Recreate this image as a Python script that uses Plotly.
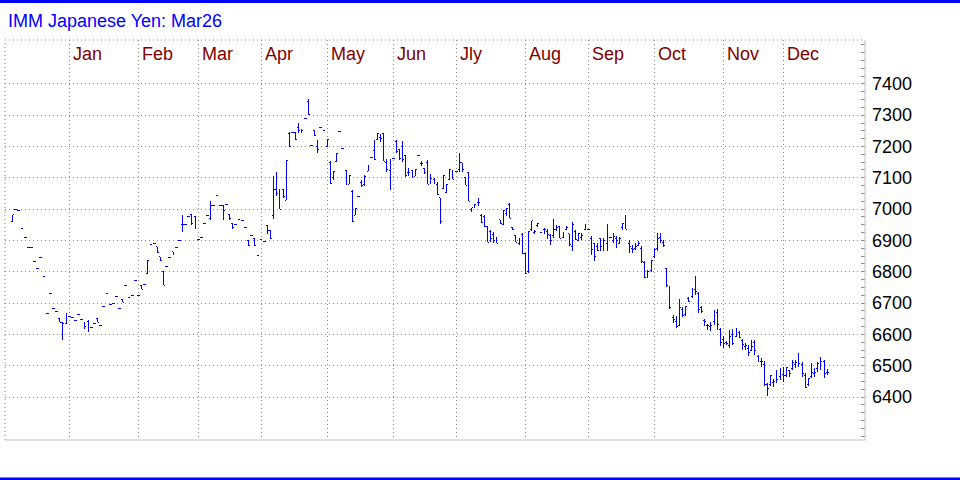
import plotly.graph_objects as go

# ---------------- data ----------------
title_text = "IMM Japanese Yen: Mar26"
month_names = ["Jan", "Feb", "Mar", "Apr", "May", "Jun", "Jly", "Aug", "Sep", "Oct", "Nov", "Dec"]
# trading bars per month: Dec-2024 (partial), Jan..Nov 2025, Dec-2025 (partial)
bars_per_month = [18, 22, 19, 20, 21, 21, 20, 22, 20, 21, 22, 19, 15]
y_ticks = [6400, 6500, 6600, 6700, 6800, 6900, 7000, 7100, 7200, 7300, 7400]

open_ = [
    6961, 7000, 6997, 6939, 6911, 6876, 6879, 6832, 6812, 6847,
    6786, 6668, 6732, 6682, 6674, 6650, 6639, 6634, 6658, 6655,
    6646, 6665, 6649, 6639, 6640, 6622, 6636, 6650, 6630, 6690,
    6732, 6697, 6700, 6722, 6682, 6710, 6757, 6717, 6725, 6773,
    6725, 6757, 6761, 6796, 6886, 6889, 6880, 6848, 6800, 6818,
    6847, 6864, 6876, 6900, 6950, 6950, 6975, 6982, 6975, 6902,
    6911, 6953, 6979, 6970, 7013, 7042, 7011, 7011, 7015, 6984,
    6955, 6950, 6967, 6964, 6943, 6900, 6916, 6906, 6852, 6903,
    6898, 6949, 6933, 6980, 7064, 7064, 7063, 7029, 7240, 7244,
    7244, 7260, 7254, 7290, 7345, 7204, 7250, 7200, 7260, 7252,
    7200, 7150, 7100, 7153, 7248, 7194, 7124, 7079, 7055, 6980,
    7040, 7086, 7080, 7121, 7165, 7187, 7221, 7230, 7241, 7150,
    7123, 7162, 7215, 7190, 7200, 7170, 7118, 7124, 7105, 7171,
    7145, 7130, 7150, 7081, 7095, 7080, 7036, 7066, 7053, 7094,
    7124, 7121, 7125, 7148, 7100, 7117, 7000, 7005, 7020, 6980,
    6975, 6944, 6930, 6920, 6909, 6966, 6950, 6985, 7015, 6942,
    6915, 6890, 6920, 6859, 6800, 6935, 6925, 6948, 6926, 6936,
    6930, 6915, 6915, 6935, 6945, 6910, 6935, 6921, 6880, 6930,
    6900, 6910, 6935, 6936, 6905, 6891, 6880, 6907, 6880, 6890,
    6910, 6900, 6905, 6890, 6940, 6975, 6890, 6875, 6875, 6885,
    6875, 6830, 6785, 6805, 6850, 6875, 6910, 6895, 6810, 6750,
    6655, 6640, 6630, 6680, 6665, 6715, 6720, 6745, 6730, 6685,
    6645, 6630, 6625, 6640, 6670, 6615, 6585, 6575, 6565, 6600,
    6595, 6605, 6580, 6560, 6555, 6550, 6575, 6530, 6515, 6505,
    6440, 6440, 6445, 6460, 6465, 6473, 6470, 6485, 6490, 6505,
    6515, 6505, 6470, 6440, 6465, 6475, 6490, 6505, 6515, 6480,
]
high = [
    6982, 7000, 6997, 6939, 6911, 6876, 6879, 6832, 6812, 6847,
    6786, 6668, 6732, 6682, 6674, 6650, 6639, 6668, 6658, 6655,
    6646, 6665, 6649, 6639, 6646, 6622, 6636, 6653, 6630, 6690,
    6732, 6697, 6700, 6722, 6682, 6710, 6757, 6717, 6725, 6773,
    6725, 6757, 6761, 6837, 6886, 6889, 6880, 6848, 6800, 6818,
    6847, 6864, 6876, 6900, 6982, 6950, 6975, 6985, 6977, 6902,
    6911, 6953, 6979, 7025, 7013, 7042, 7011, 7013, 7015, 6984,
    6955, 6950, 6967, 6964, 6943, 6900, 6916, 6906, 6852, 6903,
    6898, 6949, 6933, 7105, 7118, 7064, 7063, 7154, 7245, 7244,
    7244, 7276, 7254, 7290, 7353, 7204, 7252, 7222, 7260, 7252,
    7222, 7153, 7121, 7178, 7248, 7194, 7124, 7107, 7061, 7002,
    7040, 7093, 7110, 7139, 7165, 7220, 7241, 7240, 7241, 7160,
    7158, 7162, 7222, 7193, 7217, 7171, 7130, 7125, 7127, 7171,
    7153, 7130, 7156, 7111, 7100, 7087, 7036, 7108, 7080, 7128,
    7124, 7121, 7178, 7148, 7103, 7117, 7005, 7016, 7035, 6984,
    6980, 6944, 6934, 6928, 6909, 6966, 6997, 7004, 7019, 6942,
    6918, 6907, 6925, 6859, 6930, 6963, 6933, 6955, 6926, 6939,
    6936, 6920, 6968, 6950, 6945, 6927, 6945, 6921, 6958, 6934,
    6923, 6923, 6950, 6936, 6913, 6891, 6891, 6907, 6907, 6953,
    6910, 6923, 6913, 6911, 6955, 6982, 6900, 6886, 6891, 6897,
    6881, 6833, 6806, 6838, 6875, 6923, 6923, 6902, 6812, 6755,
    6663, 6660, 6713, 6687, 6690, 6721, 6748, 6787, 6737, 6690,
    6649, 6634, 6641, 6679, 6681, 6620, 6596, 6578, 6615, 6617,
    6620, 6610, 6585, 6572, 6567, 6583, 6583, 6535, 6524, 6514,
    6445, 6471, 6457, 6487, 6492, 6497, 6497, 6487, 6517, 6519,
    6540, 6513, 6476, 6460, 6508, 6492, 6513, 6529, 6519, 6489,
]
low = [
    6961, 7000, 6997, 6939, 6911, 6876, 6879, 6832, 6812, 6847,
    6786, 6668, 6732, 6682, 6674, 6639, 6581, 6634, 6658, 6655,
    6646, 6665, 6649, 6617, 6610, 6622, 6636, 6639, 6630, 6690,
    6732, 6697, 6700, 6722, 6682, 6702, 6757, 6717, 6725, 6773,
    6725, 6745, 6761, 6796, 6886, 6889, 6863, 6837, 6757, 6818,
    6847, 6856, 6876, 6900, 6926, 6950, 6975, 6948, 6937, 6902,
    6911, 6953, 6979, 6966, 7013, 7042, 7011, 6966, 7015, 6965,
    6937, 6950, 6967, 6964, 6943, 6883, 6916, 6883, 6852, 6903,
    6898, 6922, 6906, 6970, 7041, 6999, 7037, 7029, 7201, 7244,
    7222, 7242, 7242, 7290, 7301, 7204, 7235, 7180, 7260, 7252,
    7199, 7082, 7093, 7153, 7248, 7194, 7079, 7079, 6962, 6980,
    7040, 7071, 7075, 7121, 7165, 7156, 7221, 7215, 7153, 7120,
    7061, 7162, 7178, 7156, 7151, 7103, 7105, 7100, 7105, 7171,
    7137, 7112, 7079, 7081, 7080, 7046, 6954, 7066, 7053, 7094,
    7096, 7121, 7119, 7119, 7076, 7026, 6990, 7005, 7009, 6957,
    6944, 6894, 6895, 6891, 6891, 6953, 6948, 6979, 6971, 6932,
    6894, 6886, 6859, 6795, 6795, 6930, 6920, 6944, 6926, 6921,
    6905, 6886, 6907, 6931, 6907, 6907, 6932, 6883, 6867, 6900,
    6900, 6902, 6932, 6936, 6854, 6836, 6865, 6865, 6865, 6865,
    6910, 6891, 6876, 6889, 6934, 6936, 6860, 6860, 6870, 6881,
    6828, 6780, 6780, 6799, 6845, 6865, 6891, 6879, 6753, 6682,
    6636, 6622, 6626, 6657, 6660, 6702, 6716, 6727, 6668, 6670,
    6628, 6615, 6610, 6631, 6615, 6562, 6556, 6567, 6556, 6567,
    6591, 6588, 6551, 6549, 6530, 6546, 6535, 6511, 6496, 6434,
    6402, 6434, 6433, 6444, 6454, 6449, 6465, 6465, 6487, 6492,
    6495, 6465, 6428, 6435, 6460, 6465, 6481, 6487, 6460, 6471,
]
close = [
    6982, 7000, 6997, 6939, 6911, 6876, 6879, 6832, 6812, 6847,
    6786, 6668, 6732, 6682, 6674, 6639, 6634, 6668, 6658, 6655,
    6646, 6665, 6649, 6625, 6610, 6622, 6636, 6639, 6630, 6690,
    6732, 6697, 6700, 6722, 6682, 6702, 6757, 6717, 6725, 6773,
    6725, 6745, 6761, 6837, 6886, 6889, 6863, 6837, 6757, 6818,
    6847, 6856, 6876, 6900, 6950, 6950, 6975, 6955, 6937, 6902,
    6911, 6953, 6979, 7013, 7013, 7042, 7011, 6996, 7015, 6970,
    6940, 6950, 6967, 6964, 6943, 6883, 6916, 6883, 6852, 6903,
    6898, 6933, 6906, 7064, 7050, 6999, 7040, 7154, 7201, 7244,
    7222, 7250, 7250, 7290, 7301, 7204, 7235, 7190, 7260, 7252,
    7222, 7082, 7121, 7178, 7248, 7194, 7079, 7107, 6962, 7002,
    7040, 7074, 7105, 7139, 7165, 7160, 7241, 7225, 7153, 7125,
    7158, 7162, 7185, 7162, 7160, 7107, 7118, 7105, 7127, 7171,
    7145, 7118, 7079, 7098, 7090, 7046, 6960, 7108, 7080, 7128,
    7096, 7121, 7148, 7125, 7076, 7026, 7005, 7016, 7021, 6957,
    6944, 6894, 6905, 6900, 6891, 6955, 6997, 7002, 6971, 6935,
    6894, 6907, 6859, 6795, 6930, 6963, 6930, 6955, 6926, 6934,
    6918, 6900, 6934, 6941, 6907, 6920, 6940, 6886, 6950, 6904,
    6923, 6915, 6950, 6936, 6870, 6850, 6868, 6880, 6900, 6907,
    6910, 6913, 6900, 6907, 6955, 6936, 6881, 6872, 6881, 6891,
    6833, 6783, 6801, 6836, 6870, 6905, 6900, 6885, 6755, 6686,
    6647, 6626, 6687, 6660, 6690, 6705, 6739, 6737, 6680, 6674,
    6640, 6628, 6630, 6661, 6631, 6575, 6572, 6570, 6592, 6572,
    6615, 6591, 6568, 6565, 6542, 6563, 6549, 6524, 6514, 6441,
    6428, 6469, 6450, 6455, 6460, 6470, 6495, 6476, 6512, 6512,
    6508, 6476, 6431, 6458, 6480, 6478, 6508, 6513, 6475, 6480,
]

# ---------------- derived ----------------
n = len(open_)
x_idx = list(range(n))
month_start = []
acc = 0
for c in bars_per_month[:-1]:
    acc += c
    month_start.append(acc)

BLUE = "#0000ff"
GRID = "#8c8c8c"
FONT = "Liberation Sans, Arial, sans-serif"

fig = go.Figure(
    go.Ohlc(
        x=x_idx, open=open_, high=high, low=low, close=close,
        increasing=dict(line=dict(color=BLUE, width=1)),
        decreasing=dict(line=dict(color=BLUE, width=1)),
        tickwidth=0.45,
        hoverinfo="skip",
    )
)

W, H = 960, 480
ML, MR, MT, MB = 5, 95, 40, 40
PW, PH = W - ML - MR, H - MT - MB

fig.update_layout(
    width=W, height=H,
    margin=dict(l=ML, r=MR, t=MT, b=MB, pad=0),
    paper_bgcolor="white", plot_bgcolor="white",
    showlegend=False,
    font=dict(family=FONT, size=18, color="black"),
    xaxis=dict(
        range=[-2.41, 271.0],
        tickmode="array", tickvals=month_start,
        showticklabels=False, ticks="",
        showgrid=True, gridcolor=GRID, gridwidth=1, griddash="1px,3px",
        zeroline=False, showline=False,
        rangeslider=dict(visible=False),
    ),
    yaxis=dict(
        side="right",
        range=[6263, 7540],
        tickmode="array", tickvals=y_ticks,
        ticks="inside", ticklen=4, tickcolor=GRID,
        minor=dict(tick0=6400, dtick=25, ticks="inside", ticklen=4,
                   tickcolor=GRID, showgrid=False),
        showgrid=True, gridcolor=GRID, gridwidth=1, griddash="1px,3px",
        tickfont=dict(size=18, color="black", family=FONT),
        ticklabelstandoff=6,
        zeroline=False, showline=False,
    ),
)

shapes = [
    # frame: dotted top and left, solid light grey right and bottom
    dict(type="line", xref="paper", yref="paper", x0=0, x1=1, y0=1, y1=1,
         line=dict(color=GRID, width=1, dash="1px,3px")),
    dict(type="line", xref="paper", yref="paper", x0=0, x1=0, y0=0, y1=1,
         line=dict(color=GRID, width=1, dash="1px,3px")),
    dict(type="line", xref="paper", yref="paper", x0=1, x1=1, y0=0, y1=1,
         line=dict(color="#c0c0c0", width=1)),
    dict(type="line", xref="paper", yref="paper", x0=0, x1=1, y0=0, y1=0,
         line=dict(color="#c0c0c0", width=1)),
    # blue rules at the very top and bottom of the image
    dict(type="rect", xref="paper", yref="paper",
         x0=-ML / PW, x1=(W - ML) / PW,
         y0=1 + (MT - 3) / PH, y1=1 + MT / PH,
         fillcolor=BLUE, line=dict(width=0), layer="above"),
    dict(type="rect", xref="paper", yref="paper",
         x0=-ML / PW, x1=(W - ML) / PW,
         y0=-MB / PH, y1=-(MB - 2.5) / PH,
         fillcolor=BLUE, line=dict(width=0), layer="above"),
]

annotations = [
    dict(text=title_text, xref="paper", yref="paper",
         x=1 / PW, y=1 + (MT - 21) / PH, xanchor="left", yanchor="middle",
         showarrow=False, font=dict(size=18, color=BLUE, family=FONT)),
]
for name, pos in zip(month_names, month_start):
    annotations.append(dict(
        text=name, x=pos, xref="x", y=1, yref="paper",
        xanchor="left", yanchor="top", xshift=2, yshift=-2,
        showarrow=False, font=dict(size=18, color="#800000", family=FONT),
    ))

fig.update_layout(shapes=shapes, annotations=annotations)
fig.write_html(
    "out.html",
    config={"displayModeBar": False, "staticPlot": True},
    post_script=(
        "document.body.style.margin='0';"
        "document.body.style.overflow='hidden';"
        "document.querySelectorAll('g.ohlc path, .trace.ohlc path')"
        ".forEach(function(p){p.style.shapeRendering='crispEdges';});"
    ),
)
